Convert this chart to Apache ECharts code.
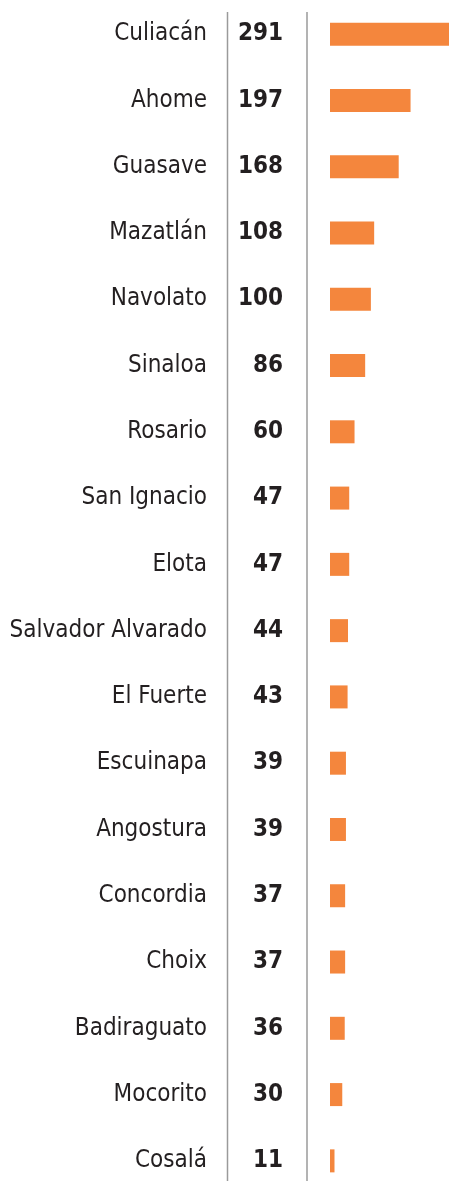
<!DOCTYPE html>
<html>
<head>
<meta charset="utf-8">
<script src="https://cdn.jsdelivr.net/npm/echarts@6/dist/echarts.min.js"></script>
<style>
  html, body { margin: 0; padding: 0; background: #fff; }
  #chart { width: 449px; height: 1181px; }
</style>
</head>
<body>
<div id="chart"></div>
<script>
// municipios y valores
const municipios = ['Culiacán', 'Ahome', 'Guasave', 'Mazatlán', 'Navolato', 'Sinaloa', 'Rosario',
  'San Ignacio', 'Elota', 'Salvador Alvarado', 'El Fuerte', 'Escuinapa', 'Angostura',
  'Concordia', 'Choix', 'Badiraguato', 'Mocorito', 'Cosalá']
const valores = [291, 197, 168, 108, 100, 86, 60, 47, 47, 44, 43, 39, 39, 37, 37, 36, 30, 11]

const font = '"Liberation Sans Narrow", "DejaVu Sans Condensed", "Roboto", sans-serif'
const chart = echarts.init(document.getElementById('chart'))

chart.setOption({
  animation: false,
  grid: { left: 330, right: 0, top: 1, height: 1193, outerBoundsMode: 'none' },
  xAxis: { type: 'value', min: 0, max: 291, show: false },
  yAxis: [
    {
      type: 'category',
      inverse: true,
      data: municipios,
      axisLine: { show: false },
      axisTick: { show: false },
      axisLabel: { margin: 123, fontSize: 24, color: '#231f20', fontFamily: font }
    },
    {
      type: 'category',
      inverse: true,
      position: 'left',
      data: valores.map(String),
      axisLine: { show: false },
      axisTick: { show: false },
      axisLabel: { margin: 47, fontSize: 24, fontWeight: 'bold', color: '#231f20', fontFamily: font }
    }
  ],
  graphic: [
    { type: 'line', shape: { x1: 227.5, y1: 12, x2: 227.5, y2: 1181 }, style: { stroke: '#9a9a9a', lineWidth: 1.5 } },
    { type: 'line', shape: { x1: 307, y1: 12, x2: 307, y2: 1181 }, style: { stroke: '#9a9a9a', lineWidth: 1.5 } }
  ],
  series: [
    {
      type: 'bar',
      data: valores,
      barWidth: 23,
      itemStyle: { color: '#f4863d' }
    }
  ]
})
</script>
</body>
</html>
